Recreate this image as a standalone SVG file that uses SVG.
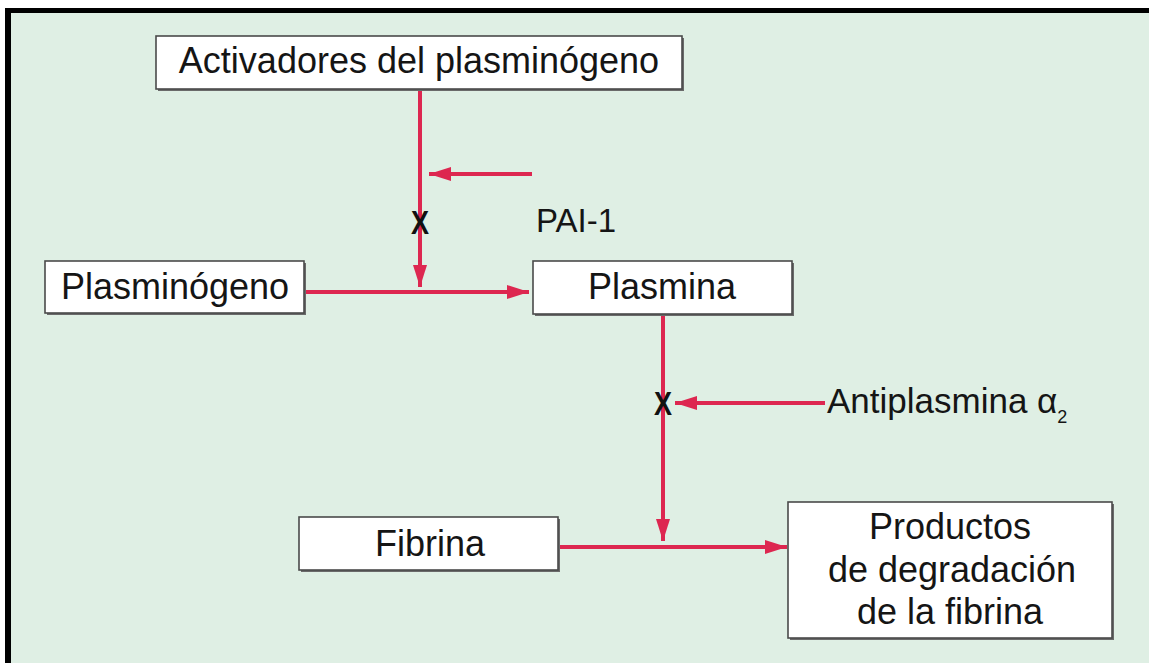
<svg xmlns="http://www.w3.org/2000/svg" width="1149" height="663" viewBox="0 0 1149 663">
<style>
.box{fill:#ffffff;stroke:#4a4a4a;stroke-width:1.6}
.shadow{fill:#6a6a6a}
.lbl{font-family:"Liberation Sans",Arial,sans-serif;font-size:36px;fill:#151515;text-anchor:middle}
.free{font-family:"Liberation Sans",Arial,sans-serif;fill:#151515}
.conn{stroke:#dd2750;stroke-width:4;fill:none}
.x{font-family:"Liberation Sans",Arial,sans-serif;font-weight:bold;font-size:33px;fill:#111;text-anchor:middle}
</style>
<defs>
<marker id="ah" markerUnits="userSpaceOnUse" markerWidth="24" markerHeight="16" refX="22" refY="7" orient="auto">
<path d="M0,0 L22,7 L0,14 z" fill="#dd2750"/>
</marker>
</defs>
<rect x="0" y="0" width="1149" height="663" fill="#ffffff"/>
<rect x="5" y="8" width="1144" height="655" fill="#000000"/>
<rect x="11" y="13" width="1138" height="650" fill="#dfefe4"/>

<g id="connectors">
<line class="conn" x1="420" y1="89" x2="420" y2="287" marker-end="url(#ah)"/>
<line class="conn" x1="304" y1="292" x2="529" y2="292" marker-end="url(#ah)"/>
<line class="conn" x1="532" y1="174" x2="429" y2="174" marker-end="url(#ah)"/>
<line class="conn" x1="663" y1="314" x2="663" y2="541" marker-end="url(#ah)"/>
<line class="conn" x1="825" y1="403" x2="675" y2="403" marker-end="url(#ah)"/>
<line class="conn" x1="558" y1="547" x2="787" y2="547" marker-end="url(#ah)"/>
<text class="x" transform="translate(420,234) scale(0.82,1)">X</text>
<text class="x" transform="translate(663,415) scale(0.82,1)">X</text>
</g>

<g id="activadores">
<rect class="shadow" x="158" y="38" width="526" height="53"/>
<rect class="box" x="156" y="36" width="526" height="53"/>
<text class="lbl" x="419" y="73">Activadores del plasminógeno</text>
</g>

<g id="plasminogeno">
<rect class="shadow" x="47" y="263" width="259" height="52"/>
<rect class="box" x="45" y="261" width="259" height="52"/>
<text class="lbl" x="175" y="299">Plasminógeno</text>
</g>

<g id="plasmina">
<rect class="shadow" x="535" y="263" width="259" height="53"/>
<rect class="box" x="533" y="261" width="259" height="53"/>
<text class="lbl" x="662" y="299">Plasmina</text>
</g>

<g id="fibrina">
<rect class="shadow" x="301" y="519" width="259" height="53"/>
<rect class="box" x="299" y="517" width="259" height="53"/>
<text class="lbl" x="430" y="556">Fibrina</text>
</g>

<g id="productos">
<rect class="shadow" x="790" y="504" width="324" height="136"/>
<rect class="box" x="788" y="502" width="324" height="136"/>
<text class="lbl" x="950" y="539">Productos</text>
<text class="lbl" x="952" y="582">de degradación</text>
<text class="lbl" x="950" y="624">de la fibrina</text>
</g>

<g id="pai1">
<text class="free" x="536" y="232" font-size="33">PAI-1</text>
</g>

<g id="antiplasmina">
<text class="free" x="827" y="413" font-size="35">Antiplasmina α<tspan font-size="18" dy="10">2</tspan></text>
</g>
</svg>
